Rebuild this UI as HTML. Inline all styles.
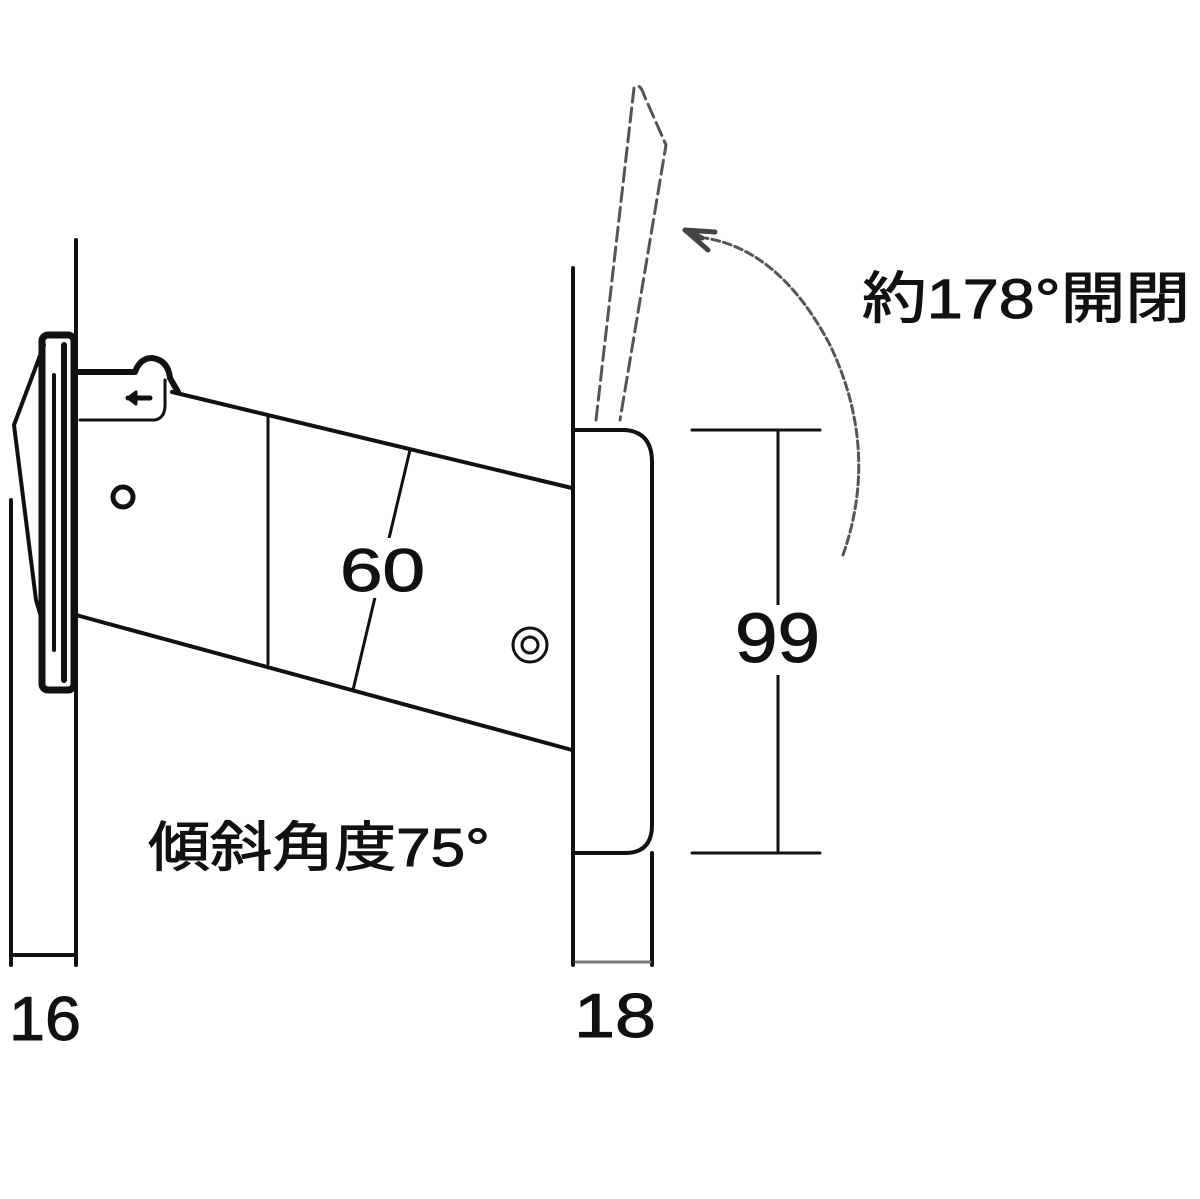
<!DOCTYPE html>
<html><head><meta charset="utf-8"><style>
html,body{margin:0;padding:0;background:#fff;}
svg{display:block}
text{font-family:"Liberation Sans","Noto Sans CJK JP",sans-serif;fill:#111;stroke:#111;stroke-width:1}
</style></head><body>
<svg width="1200" height="1199" viewBox="0 0 1200 1199" xmlns="http://www.w3.org/2000/svg">
<g stroke="#111" fill="none" stroke-linecap="round" stroke-linejoin="round">
<line x1="76" y1="240" x2="76" y2="965" stroke-width="4"/>
<line x1="11" y1="500" x2="11" y2="965" stroke-width="4"/>
<line x1="11" y1="955" x2="76" y2="955" stroke-width="4"/>
<rect x="42" y="335" width="32" height="355" rx="6" stroke-width="7"/>
<line x1="54" y1="375" x2="54" y2="650" stroke-width="4"/>
<line x1="64" y1="345" x2="64" y2="680" stroke-width="6"/>
<path d="M44 345 L14 425 L36 600 L42 620" stroke-width="4"/>
<path d="M76 372 L135 372 Q140 358 152 358 Q168 360 170 378 L178 392" stroke-width="6"/>
<path d="M80 420 L155 420 Q165 418 165 405 L165 380" stroke-width="3"/>
<line x1="128" y1="398" x2="150" y2="398" stroke-width="5"/>
<path d="M128 398 L136 392 L136 404 Z" fill="#111" stroke-width="3"/>
<line x1="172" y1="392" x2="572" y2="488" stroke-width="4"/>
<line x1="76" y1="615" x2="572" y2="750" stroke-width="4"/>
<line x1="268" y1="415" x2="268" y2="664" stroke-width="3"/>
<line x1="410" y1="450" x2="353" y2="690" stroke-width="3"/>
<circle cx="123" cy="497" r="10" stroke-width="5"/>
<circle cx="530" cy="645" r="17" stroke-width="3"/>
<circle cx="530" cy="645" r="8" stroke-width="3"/>
<line x1="573" y1="268" x2="573" y2="965" stroke-width="4"/>
<path d="M573 430 L625 430 Q652 432 652 462 L652 825 Q652 853 625 853 L573 853" stroke-width="4"/>
<line x1="652" y1="853" x2="652" y2="965" stroke-width="4"/>
<line x1="576" y1="962" x2="650" y2="962" stroke-width="3" stroke="#777"/>
<line x1="692" y1="430" x2="820" y2="430" stroke-width="3"/>
<line x1="692" y1="853" x2="820" y2="853" stroke-width="3"/>
<line x1="778" y1="430" x2="778" y2="853" stroke-width="3"/>
<path d="M596 420 L634 88 Q640 82 644 95 L666 145 L620 420" stroke-width="3" stroke="#555" stroke-dasharray="14 6"/>
<path d="M843 555 Q880 450 830 345 Q780 250 705 238" stroke-width="3" stroke="#555" stroke-dasharray="8 4"/>
<path d="M685 230 L715 232 M685 230 L708 250 M690 232 L702 238" stroke-width="5" stroke="#444"/>
</g>
<rect x="338" y="538" width="90" height="60" fill="#fff"/>
<rect x="733" y="605" width="90" height="70" fill="#fff"/>
<text x="340" y="591" font-size="60" textLength="85" lengthAdjust="spacingAndGlyphs">60</text>
<text x="735" y="662" font-size="70" textLength="85" lengthAdjust="spacingAndGlyphs">99</text>
<text x="9" y="1040" font-size="62" textLength="72" lengthAdjust="spacingAndGlyphs">16</text>
<text x="574" y="1037" font-size="62" textLength="82" lengthAdjust="spacingAndGlyphs">18</text>
<text x="862" y="318" font-size="56" textLength="328" lengthAdjust="spacingAndGlyphs">約178°開閉</text>
<text x="148" y="866" font-size="54" textLength="342" lengthAdjust="spacingAndGlyphs">傾斜角度75°</text>
</svg>
</body></html>
